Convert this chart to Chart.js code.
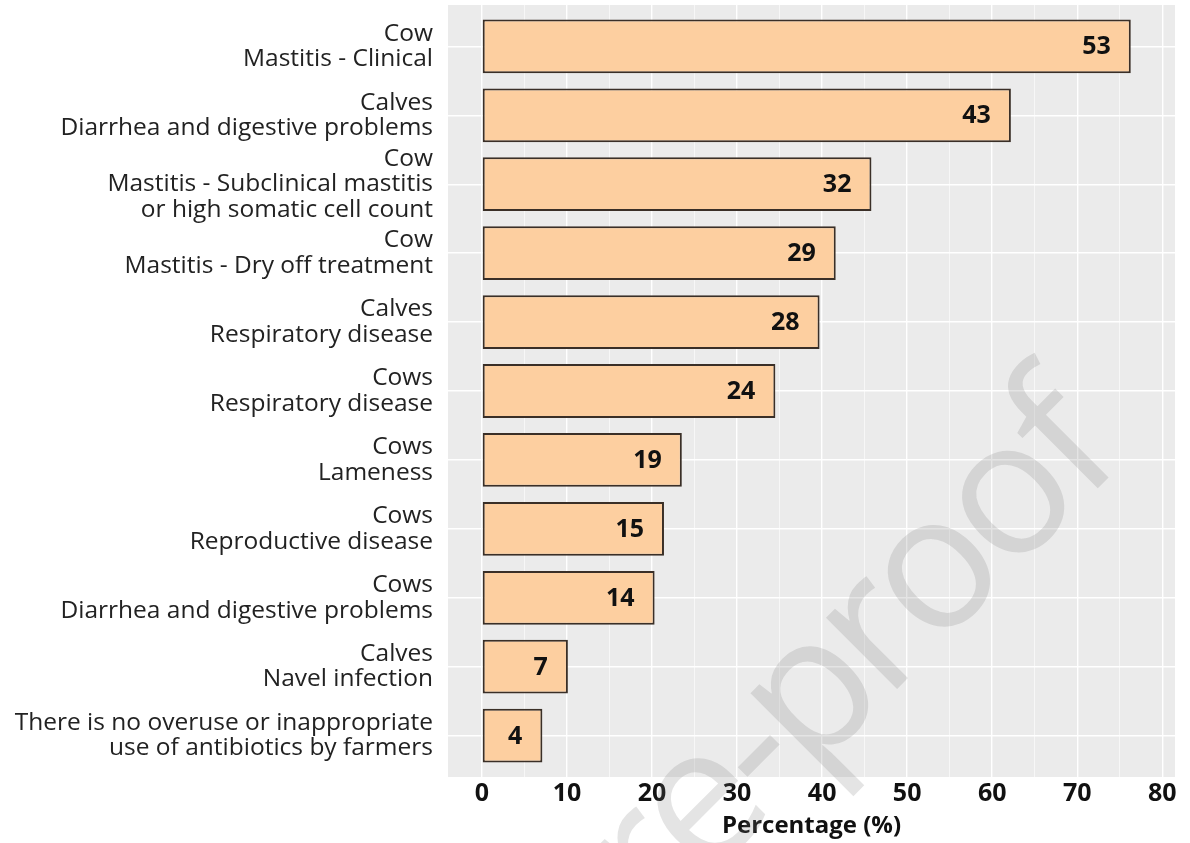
<!DOCTYPE html>
<html>
<head>
<meta charset="utf-8">
<script src="https://cdn.jsdelivr.net/npm/chart.js@4"></script>
<style>
  html, body { margin: 0; padding: 0; background: #fff; }
  #wrap { width: 1190px; height: 843px; }
</style>
</head>
<body>
<div id="wrap"><canvas id="myChart"></canvas></div>
<script>
const categories = [
  ['Cow', 'Mastitis - Clinical'],
  ['Calves', 'Diarrhea and digestive problems'],
  ['Cow', 'Mastitis - Subclinical mastitis', 'or high somatic cell count'],
  ['Cow', 'Mastitis - Dry off treatment'],
  ['Calves', 'Respiratory disease'],
  ['Cows', 'Respiratory disease'],
  ['Cows', 'Lameness'],
  ['Cows', 'Reproductive disease'],
  ['Cows', 'Diarrhea and digestive problems'],
  ['Calves', 'Navel infection'],
  ['There is no overuse or inappropriate', 'use of antibiotics by farmers']
];
// bar lengths (percentage) and the counts printed inside the bars
const percentages = [76.3, 62.2, 45.8, 41.6, 39.7, 34.5, 23.5, 21.4, 20.3, 10.1, 7.1];
const counts = [53, 43, 32, 29, 28, 24, 19, 15, 14, 7, 4];
const xTicks = [0, 5, 10, 15, 20, 25, 30, 35, 40, 45, 50, 55, 60, 65, 70, 75, 80];

const FONT = "'Open Sans', 'Noto Sans', sans-serif";

// grey ggplot-like panel
const panelBg = {
  id: 'panelBg',
  beforeDraw(chart) {
    const { ctx, chartArea: a } = chart;
    ctx.save();
    ctx.fillStyle = '#ebebeb';
    ctx.fillRect(a.left, a.top, a.right - a.left, a.bottom - a.top);
    ctx.restore();
  }
};

// count labels inside the bars
const barLabels = {
  id: 'barLabels',
  afterDatasetsDraw(chart) {
    const ctx = chart.ctx;
    const meta = chart.getDatasetMeta(0);
    ctx.save();
    ctx.font = 'bold 25px ' + FONT;
    ctx.fillStyle = '#111';
    ctx.textAlign = 'right';
    ctx.textBaseline = 'middle';
    meta.data.forEach((bar, i) => {
      ctx.fillText(String(counts[i]), bar.x - 20, bar.y + 1);
    });
    ctx.restore();
  }
};

// "Journal Pre-proof" watermark, mostly cut off by the page edge
const watermark = {
  id: 'watermark',
  afterDraw(chart) {
    const ctx = chart.ctx;
    ctx.save();
    ctx.font = '188px ' + FONT;
    ctx.letterSpacing = '-8px';
    ctx.fillStyle = 'rgba(120,120,120,0.2)';
    ctx.translate(1046, 540);
    ctx.rotate(-Math.PI / 4);
    const off = ctx.measureText('Journal Pre-pro').width + ctx.measureText('o').width / 2;
    ctx.textBaseline = 'alphabetic';
    ctx.fillText('Journal Pre-proof', -off, 0);
    ctx.restore();
  }
};

const ctx = document.getElementById('myChart').getContext('2d');
const myChart = new Chart(ctx, {
  type: 'bar',
  data: {
    datasets: [
      {
        data: percentages.map((v, i) => ({ x: v, y: i })),
        backgroundColor: '#fdcfa0',
        borderColor: '#3a2f27',
        borderWidth: 2,
        borderSkipped: false,
        categoryPercentage: 1,
        barPercentage: 0.78,
      },
    ],
  },
  options: {
    indexAxis: 'y',
    responsive: true,
    maintainAspectRatio: false,
    animation: false,
    layout: { padding: { top: 5, right: 15, left: 0, bottom: 0 } },
    plugins: { legend: { display: false }, tooltip: { enabled: false } },
    scales: {
      x: {
        type: 'linear',
        min: -4,
        max: 81.5,
        afterBuildTicks(scale) {
          scale.ticks = xTicks.map(v => ({ value: v }));
        },
        afterFit(scale) {
          scale.height = 66;
          scale.paddingLeft = 0;
          scale.paddingRight = 0;
        },
        border: { display: false },
        grid: {
          color: '#ffffff',
          lineWidth: c => (c.tick && c.tick.value % 10 === 0 ? 1.4 : 0.6),
          drawTicks: false,
        },
        ticks: {
          padding: 2,
          autoSkip: false,
          maxRotation: 0,
          color: '#111',
          font: { family: FONT, size: 25, weight: 'bold' },
          callback: v => (v % 10 === 0 ? String(v) : ''),
        },
        title: {
          display: true,
          text: 'Percentage (%)',
          color: '#111',
          font: { family: FONT, size: 24, weight: 'bold' },
          padding: { top: 0, bottom: 2 },
        },
      },
      y: {
        type: 'linear',
        reverse: true,
        offset: false,
        min: -0.6,
        max: 10.6,
        afterBuildTicks(scale) {
          scale.ticks = categories.map((c, i) => ({ value: i }));
        },
        afterFit(scale) {
          scale.width = 448;
          scale.paddingTop = 0;
          scale.paddingBottom = 0;
        },
        border: { display: false },
        grid: { color: '#ffffff', lineWidth: 1.4, drawTicks: false, offset: false },
        ticks: {
          padding: 15,
          autoSkip: false,
          color: '#222',
          font: { family: FONT, size: 24.5, lineHeight: 1.04 },
          callback: v => categories[v],
        },
      },
    },
  },
  plugins: [panelBg, barLabels, watermark],
});
</script>
</body>
</html>
